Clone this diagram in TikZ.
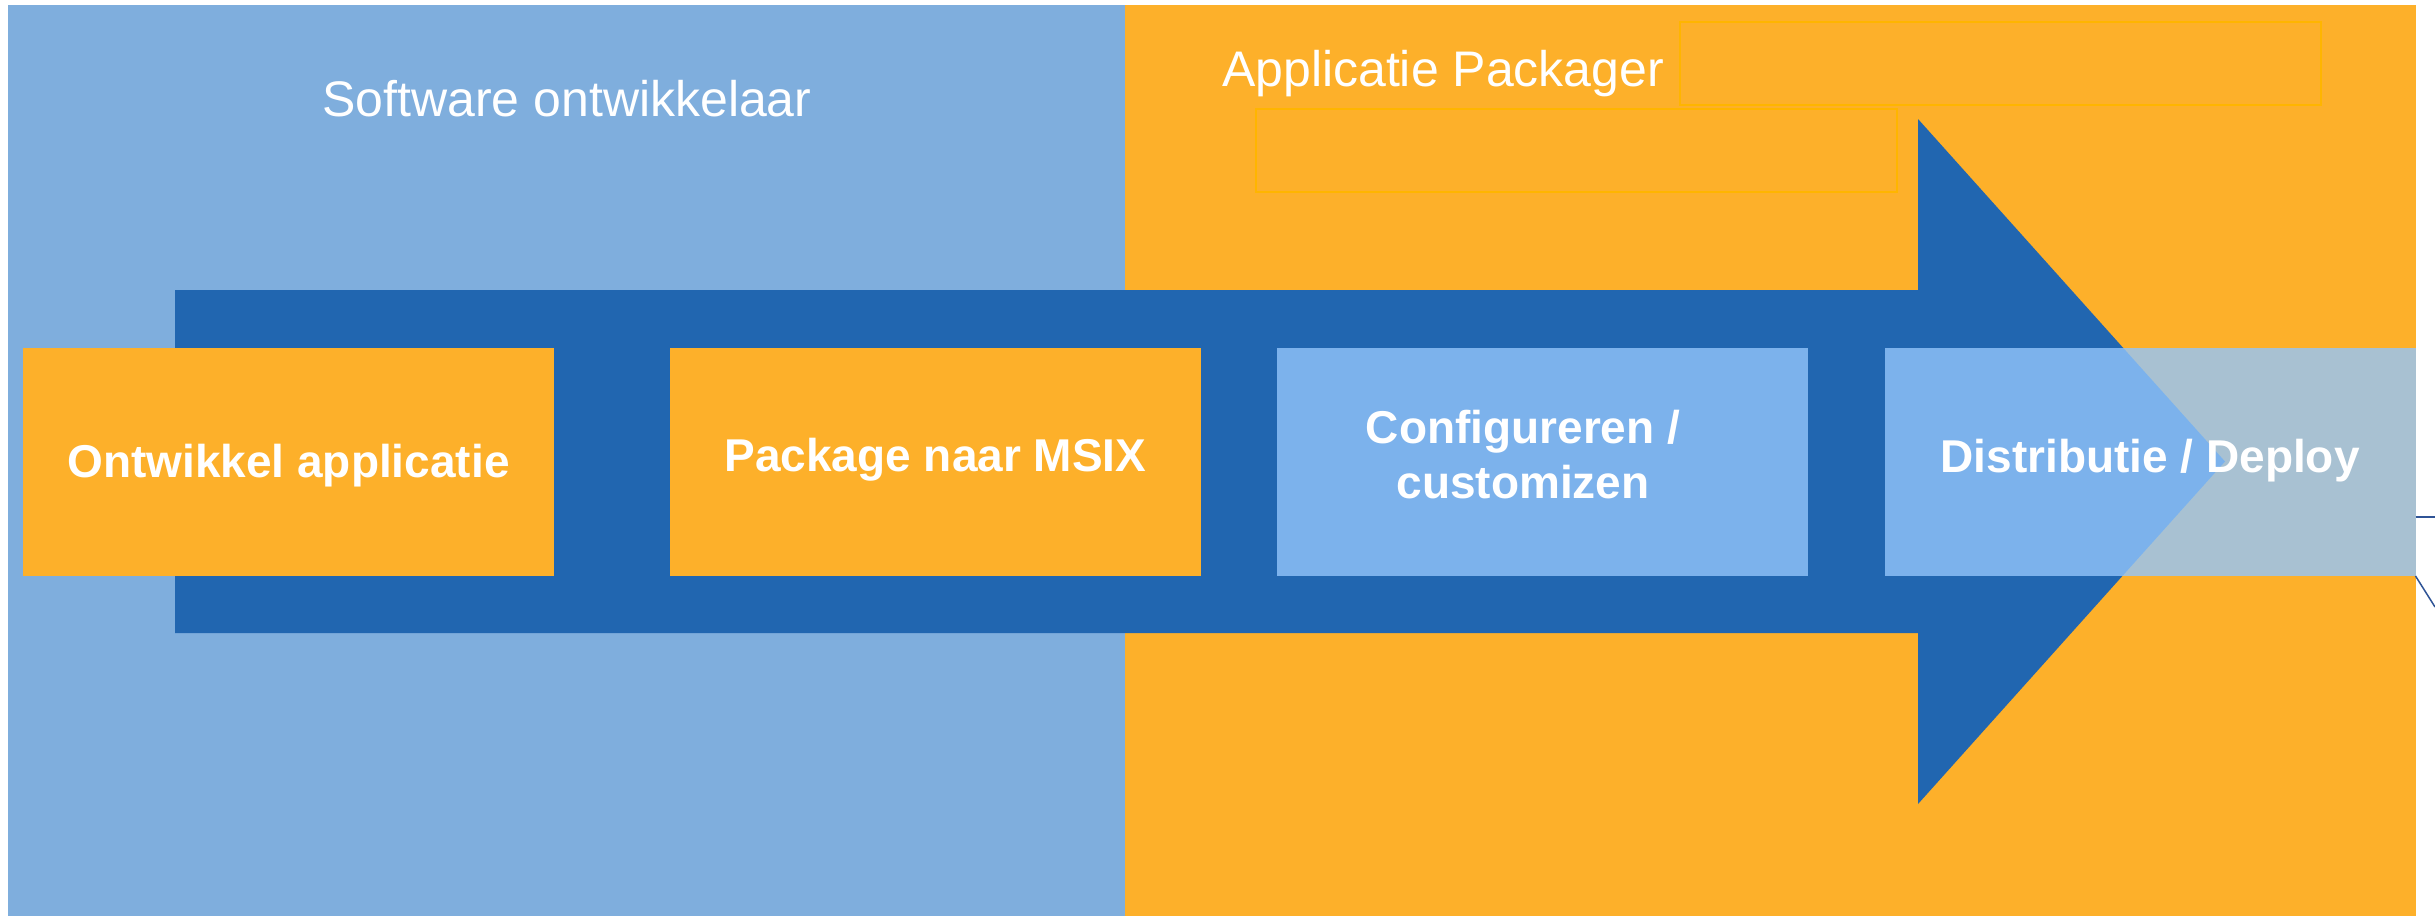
\documentclass[tikz,border=0pt]{standalone}
\usepackage{fontspec}
\setmainfont{Liberation Sans}
\definecolor{paneelblauw}{RGB}{127,174,221}
\definecolor{paneeloranje}{RGB}{253,176,42}
\definecolor{pijlblauw}{RGB}{33,102,176}
\definecolor{vakblauw}{RGB}{147,198,252}
\definecolor{randgeel}{RGB}{255,181,0}
\definecolor{lijnblauw}{RGB}{47,84,150}
\tikzset{
  stapvak/.style={rectangle,minimum width=531pt,minimum height=228pt,inner sep=0pt,outer sep=0pt},
  staptekst/.style={text=white,font=\fontsize{46}{55}\selectfont\bfseries,align=center,inner sep=0pt},
  leegvak/.style={rectangle,draw=randgeel,line width=2pt,minimum width=641pt,minimum height=83pt,inner sep=0pt},
  kop/.style={text=white,font=\fontsize{50}{60}\selectfont,anchor=base,inner sep=0pt},
  lijn/.style={draw=lijnblauw,line width=1.5pt}
}
\begin{document}
\begin{tikzpicture}[x=1pt,y=-1pt]
\useasboundingbox (0,0) rectangle (2435,916);
\fill[white] (0,0) rectangle (2435,916);

\fill[paneelblauw] (8,5) rectangle (1125,916);
\fill[paneeloranje] (1125,5) rectangle (2416,916);
\node[kop] (ontwikkelaar) at (567,116) {Software ontwikkelaar};
\node[kop] (packager) at (1443,86) {Applicatie Packager};
\node[leegvak] (leeg1) at (2000.5,63.5) {};
\node[leegvak] (leeg2) at (1576.5,150.5) {};

% de pijl
\fill[pijlblauw] (175,290) -- (1918,290) -- (1918,119) -- (2225,461.5) -- (1918,804) -- (1918,633) -- (175,633) -- cycle;

\node[stapvak,fill=paneeloranje] (ontwikkel) at (288.5,462) {};
\node[stapvak,fill=paneeloranje] (package) at (935.5,462) {};
\node[stapvak,fill=vakblauw,fill opacity=.8] (configureren) at (1542.5,462) {};
\node[stapvak,fill=vakblauw,fill opacity=.8] (distributie) at (2150,462) {};

\node[staptekst,anchor=base] (t-ontwikkel) at (ontwikkel.center |- 0,477) {Ontwikkel applicatie};
\node[staptekst,anchor=base] (t-package) at (package.center |- 0,471) {Package naar MSIX};
\node[staptekst] (t-configureren) at (1523,455) {Configureren /\\customizen};
\node[staptekst,anchor=base] (t-distributie) at (distributie.center |- 0,472) {Distributie / Deploy};

\coordinate (rand1) at (2435,517);
\coordinate (rand2) at (2435,607);
\draw[lijn] (distributie.east |- rand1) -- (rand1);
\draw[lijn] (distributie.south east) -- (rand2);
\end{tikzpicture}
\end{document}
